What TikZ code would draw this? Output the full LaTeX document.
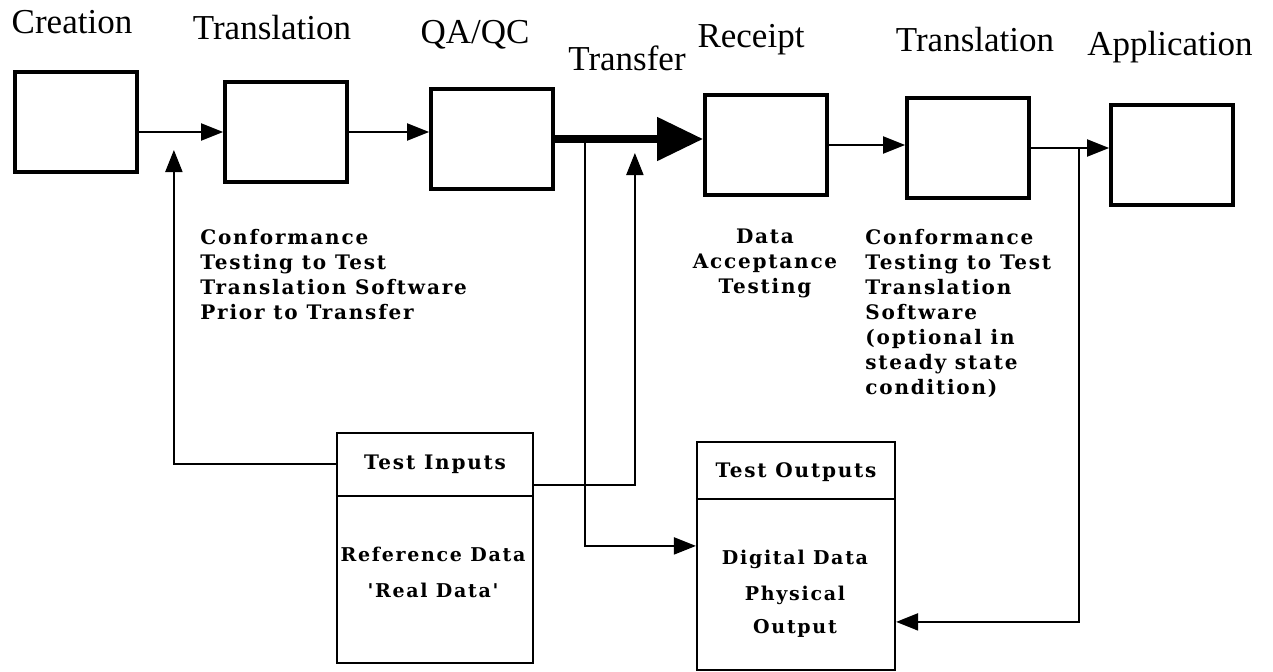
\documentclass[tikz,border=0pt]{standalone}
\usepackage{fontspec}
\setmainfont{Liberation Serif}
\newfontfamily\notefont[LetterSpace=9]{DejaVu Serif}
\usetikzlibrary{positioning,arrows.meta,calc}
\tikzset{
    stage box/.style={rectangle, draw, line width=1.9pt, minimum width=61pt, minimum height=50pt, inner sep=0pt},
    stage label/.style={font=\fontsize{17.5}{17.5}\selectfont, inner sep=0pt},
    note/.style={font=\notefont\bfseries\fontsize{10}{12.5}\selectfont, inner sep=0pt},
    box note/.style={note, font=\notefont\bfseries\fontsize{9.5}{18}\selectfont, align=center},
    test box/.style={rectangle, draw, line width=1.1pt, inner sep=0pt},
    link/.style={line width=1pt},
    flow/.style={link, -{Triangle[length=11pt, width=8.5pt]}},
    big flow/.style={line width=4pt, -{Triangle[length=23pt, width=21pt]}}
}
\begin{document}
\begin{tikzpicture}[x=0.5pt, y=-0.5pt]
\useasboundingbox (0,0) rectangle (1273,671);

% process stages
\node[stage box] (creation) at (76,122) {};
\node[stage box] (trans1) at (286,132) {};
\node[stage box] (qaqc) at (492,139) {};
\node[stage box] (receipt) at (766,145) {};
\node[stage box] (trans2) at (968,148) {};
\node[stage box] (app) at (1172,155) {};

\node[stage label] (creationlbl) at (72,22) {Creation};
\node[stage label] (trans1lbl) at (272,28) {Translation};
\node[stage label] (qaqclbl) at (475,35) {QA/QC};
\node[stage label] (transferlbl) at (627,58) {Transfer};
\node[stage label] (receiptlbl) at (751,40) {Receipt};
\node[stage label] (trans2lbl) at (975,40) {Translation};
\node[stage label] (applbl) at (1170,47) {Application};

% notes under the stages
\node[note, align=left, anchor=north west] (conf1) at (200,229)
  {Conformance\\Testing to Test\\Translation Software\\Prior to Transfer};
\node[note, align=center, anchor=north] (accept) at (765,229)
  {Data\\Acceptance\\Testing};
\node[note, align=left, anchor=north west] (conf2) at (865,229)
  {Conformance\\Testing to Test\\Translation\\Software\\(optional in\\steady state\\condition)};

% test boxes
\node[test box, minimum width=98pt, minimum height=115pt] (tin) at (435,548) {};
\node[note] (tinhead) at ([yshift=-16pt]tin.north) {Test Inputs};
\draw[link] ([yshift=-32pt]tin.north west) -- ([yshift=-32pt]tin.north east);
\node[box note] (tinbody) at (433,572) {Reference Data\\'Real Data'};

\node[test box, minimum width=99pt, minimum height=114pt] (tout) at (796,556) {};
\node[note] (touthead) at ([yshift=-15.5pt]tout.north) {Test Outputs};
\draw[link] ([yshift=-29pt]tout.north west) -- ([yshift=-29pt]tout.north east);
\node[box note] (toutbody) at (795,594) {Digital Data\\Physical\\[-1.5pt]Output};

% main flow
\draw[flow] (creation.east |- trans1) -- (trans1.west);
\draw[flow] (trans1.east) -- (trans1.east -| qaqc.west);
\draw[big flow] (qaqc.east) -- (qaqc.east -| receipt.west);
\draw[flow] (receipt.east) -- (receipt.east -| trans2.west);
\draw[flow] (trans2.east) -- (trans2.east -| app.west);

% test connections
\coordinate (inup) at ([xshift=17.5pt, yshift=-9pt]creation.east |- trans1);
\coordinate (xferdown) at ([xshift=15pt]qaqc.east);
\coordinate (xferup) at ([xshift=40pt, yshift=-7pt]qaqc.east);
\coordinate (appdown) at ([xshift=24pt]trans2.east);

\draw[flow] (tinhead -| tin.west) -| (inup);
\draw[flow] ([yshift=-10.5pt]tinhead -| tin.east) -| (xferup);
\draw[flow] (xferdown) |- ([yshift=2pt]toutbody.north -| tout.west);
\draw[flow] (appdown) |- ([yshift=-36pt]toutbody.north -| tout.east);
\end{tikzpicture}
\end{document}
